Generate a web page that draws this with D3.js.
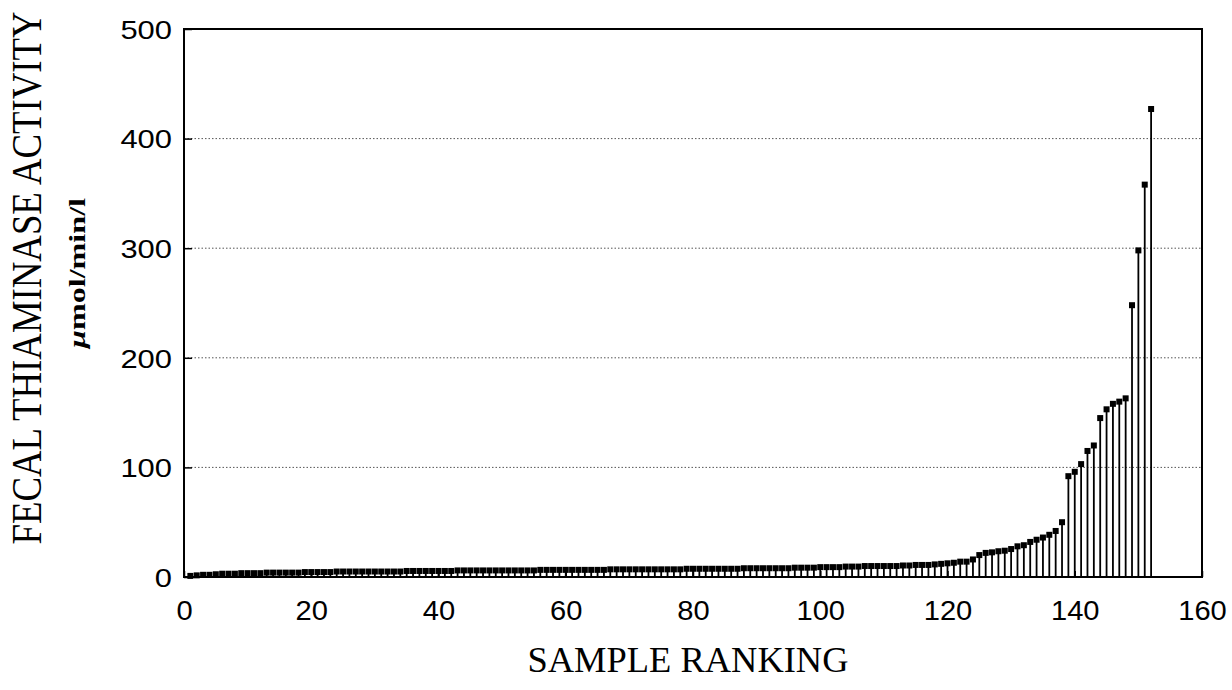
<!DOCTYPE html>
<html>
<head>
<meta charset="utf-8">
<script src="https://cdn.jsdelivr.net/npm/d3@7"></script>
<style>
  body { margin: 0; background: #fff; }
  svg { display: block; }
</style>
</head>
<body>
<svg id="chart"></svg>
<script>
// sample ranking 1..152, fecal thiaminase activity (umol/min/l)
const activity = [
  1, 1.5, 2, 2, 2.5, 3, 3, 3, 3.5, 3.5,
  3.5, 3.5, 4, 4, 4, 4, 4, 4, 4.5, 4.5,
  4.5, 4.5, 4.5, 5, 5, 5, 5, 5, 5, 5,
  5, 5, 5, 5, 5.5, 5.5, 5.5, 5.5, 5.5, 5.5,
  5.5, 5.5, 6, 6, 6, 6, 6, 6, 6, 6,
  6, 6, 6, 6, 6, 6.5, 6.5, 6.5, 6.5, 6.5,
  6.5, 6.5, 6.5, 6.5, 6.5, 6.5, 7, 7, 7, 7,
  7, 7, 7, 7, 7, 7, 7, 7, 7.5, 7.5,
  7.5, 7.5, 7.5, 7.5, 7.5, 7.5, 7.5, 8, 8, 8,
  8, 8, 8, 8, 8, 8.5, 8.5, 8.5, 8.5, 9,
  9, 9, 9, 9.5, 9.5, 9.5, 10, 10, 10, 10,
  10, 10, 10.5, 10.5, 11, 11, 11, 11.5, 12, 12.5,
  13, 14, 14, 16, 20, 22, 22.5, 23.5, 24, 25.5,
  28, 29, 32, 34, 36, 38.5, 42, 50, 92, 96,
  103, 115, 120, 145, 153, 158, 160, 163, 248, 298,
  358, 427
];
const xTicks = [0, 20, 40, 60, 80, 100, 120, 140, 160];
const yTicks = [0, 100, 200, 300, 400, 500];
const gridValues = [100, 200, 300, 400];
const xTitle = 'SAMPLE RANKING';
const yTitle = 'FECAL THIAMINASE ACTIVITY';

const width = 1232, height = 690;
const margin = {top: 29, right: 30, bottom: 113, left: 184};

let svg = d3.select('#chart').attr('width', width).attr('height', height);

let x = d3.scaleLinear().domain([0, 160]).range([margin.left, width - margin.right]);
let y = d3.scaleLinear().domain([0, 500]).range([height - margin.bottom, margin.top]);

let data = activity.map((v, i) => ({rank: i + 1, value: v}));

// dotted grid
svg.append('g')
    .selectAll('line')
    .data(gridValues)
    .enter()
    .append('line')
    .attr('x1', x(0)).attr('x2', x(160))
    .attr('y1', d => y(d)).attr('y2', d => y(d))
    .attr('stroke', '#555')
    .attr('stroke-width', 1)
    .attr('stroke-dasharray', '1.5,2');

// axes (ticks inside, labels drawn by the axis)
let xAxis = svg.append('g')
    .attr('transform', 'translate(0,' + y(0) + ')')
    .call(d3.axisBottom(x).tickValues(xTicks).tickSizeInner(-6).tickSizeOuter(0).tickPadding(23));
let yAxis = svg.append('g')
    .attr('transform', 'translate(' + x(0) + ',0)')
    .call(d3.axisLeft(y).tickValues(yTicks).tickSizeInner(-8).tickSizeOuter(0).tickPadding(12));

[xAxis, yAxis].forEach(a => {
    a.select('.domain').remove();
    a.selectAll('line').attr('stroke', '#000').attr('stroke-width', 1.5);
    a.selectAll('text')
        .style('font-family', '"Liberation Sans", Arial, sans-serif')
        .attr('fill', '#000');
});
xAxis.selectAll('text')
    .style('font-size', '28px')
    .attr('textLength', d => String(d).length * 16.2)
    .attr('lengthAdjust', 'spacingAndGlyphs');
yAxis.selectAll('text')
    .style('font-size', '26px')
    .attr('dy', '0.36em')
    .attr('textLength', d => String(d).length * 17.2)
    .attr('lengthAdjust', 'spacingAndGlyphs');

// stems
svg.append('g')
    .selectAll('line')
    .data(data)
    .enter()
    .append('line')
    .attr('x1', d => x(d.rank)).attr('x2', d => x(d.rank))
    .attr('y1', y(0)).attr('y2', d => y(d.value))
    .attr('stroke', '#000')
    .attr('stroke-width', 1.8);

// square markers
svg.append('g')
    .selectAll('rect')
    .data(data)
    .enter()
    .append('rect')
    .attr('x', d => x(d.rank) - 3)
    .attr('y', d => y(d.value) - 3)
    .attr('width', 6)
    .attr('height', 6)
    .attr('fill', '#000');

// frame
svg.append('rect')
    .attr('x', x(0)).attr('y', y(500))
    .attr('width', x(160) - x(0)).attr('height', y(0) - y(500))
    .attr('fill', 'none')
    .attr('stroke', '#000')
    .attr('stroke-width', 2);

// titles
svg.append('text')
    .attr('x', (x(0) + x(160)) / 2 - 5)
    .attr('y', 672)
    .attr('text-anchor', 'middle')
    .attr('textLength', 321)
    .attr('lengthAdjust', 'spacingAndGlyphs')
    .style('font-family', '"Liberation Serif", "Times New Roman", serif')
    .style('font-size', '35px')
    .text(xTitle);

svg.append('text')
    .attr('transform', 'translate(41,278) rotate(-90) scale(1,1.15)')
    .attr('text-anchor', 'middle')
    .attr('textLength', 533)
    .attr('lengthAdjust', 'spacingAndGlyphs')
    .style('font-family', '"Liberation Serif", "Times New Roman", serif')
    .style('font-size', '36px')
    .text(yTitle);

let unit = svg.append('text')
    .attr('transform', 'translate(85,273) rotate(-90)')
    .attr('text-anchor', 'middle')
    .attr('textLength', 150)
    .attr('lengthAdjust', 'spacingAndGlyphs')
    .style('font-family', '"Liberation Serif", "Times New Roman", serif')
    .style('font-weight', 'bold')
    .style('font-size', '24px');
unit.append('tspan').style('font-style', 'italic').text('\u03bc');
unit.append('tspan').text('mol/min/l');
</script>
</body>
</html>
